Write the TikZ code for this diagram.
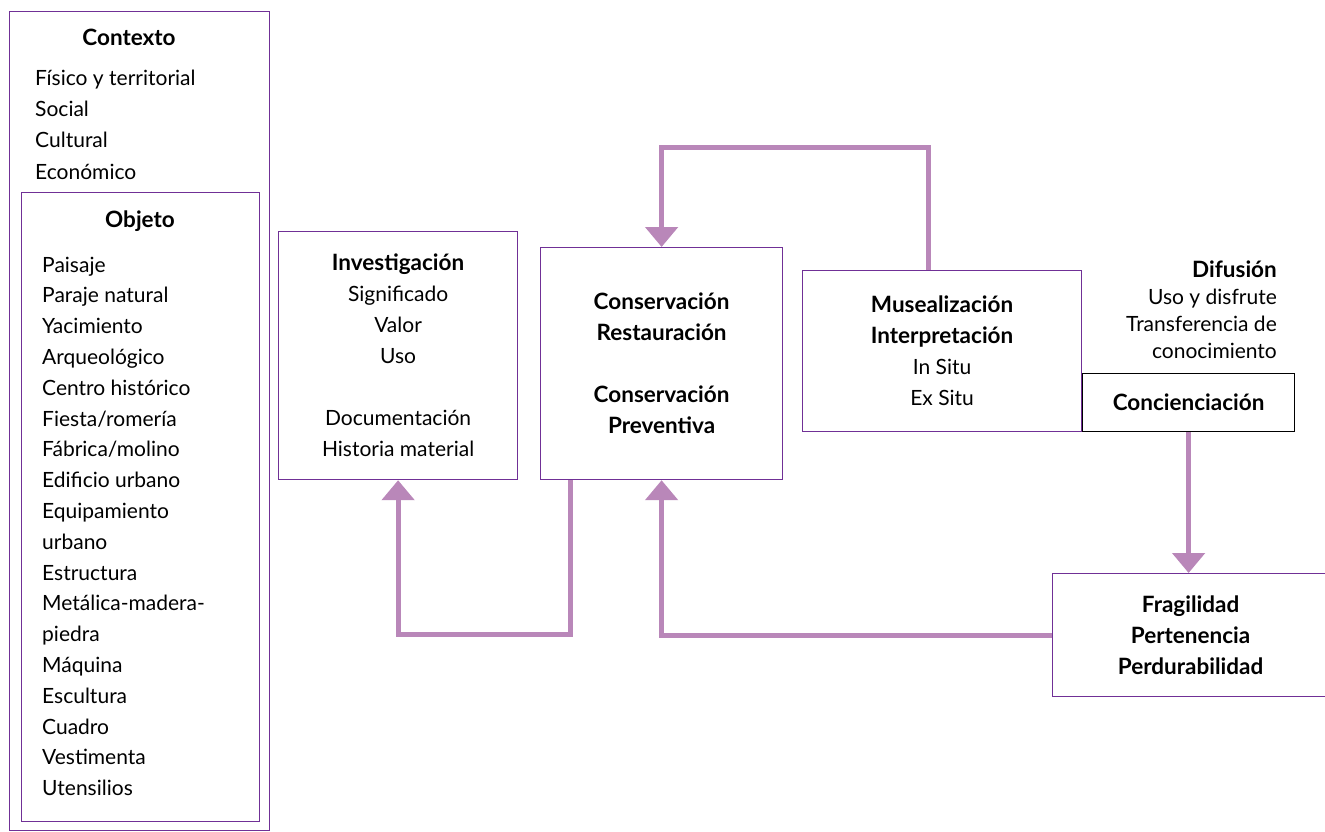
\documentclass[tikz,border=0pt]{standalone}
\usepackage{fontspec}
\setmainfont{Lato}
\usetikzlibrary{arrows.meta,calc}
\definecolor{boxpurple}{RGB}{112,48,150}
\definecolor{arrowpurple}{RGB}{185,135,185}
\newcommand{\bt}[1]{{\fontsize{22.5}{31}\selectfont\bfseries #1}}
\tikzset{
  box/.style={draw=boxpurple, line width=1.2pt, rectangle, inner sep=0pt, anchor=north west,
    align=center, font=\fontsize{21}{31}\selectfont},
  blackbox/.style={box, draw=black},
  lbl/.style={inner sep=0pt, font=\fontsize{21}{31}\selectfont},
  conn/.style={draw=arrowpurple, line width=5pt, -{Triangle[width=32pt,length=20pt]}}
}
\begin{document}
\begin{tikzpicture}[x=1pt,y=-1pt]
\useasboundingbox (0,0) rectangle (1325,832);
% left column
\node[box, minimum width=260pt, minimum height=819pt] (ctx) at (9,11) {};
\node[box, minimum width=238pt, minimum height=629pt] (obj) at (21,192) {};
\node[lbl, anchor=base] (ctxt) at (129,46) {\bt{Contexto}};
\node[lbl, anchor=base west] (ctx1) at (35,86) {Físico y territorial};
\node[lbl, anchor=base west] (ctx2) at (35,117) {Social};
\node[lbl, anchor=base west] (ctx3) at (35,148) {Cultural};
\node[lbl, anchor=base west] (ctx4) at (35,179) {Económico};
\node[lbl, anchor=base] (objt) at (140,227) {\bt{Objeto}};
\foreach \t [count=\i from 0] in {Paisaje,Paraje natural,Yacimiento,Arqueológico,Centro histórico,Fiesta/romería,Fábrica/molino,Edificio urbano,Equipamiento,urbano,Estructura,Metálica-madera-,piedra,Máquina,Escultura,Cuadro,Vestimenta,Utensilios}
  \node[lbl, anchor=base west] (obj\i) at (42,{272+30.8*\i}) {\t};
% boxes
\node[box, minimum width=239pt, minimum height=248pt] (inv) at (278,231)
  {\bt{Investigación}\\Significado\\Valor\\Uso\\[31pt]Documentación\\Historia material};
\node[box, minimum width=242pt, minimum height=232pt] (cons) at (540,247)
  {\bt{Conservación}\\\bt{Restauración}\\[31pt]\bt{Conservación}\\\bt{Preventiva}};
\node[box, minimum width=279pt, minimum height=161pt] (mus) at (802,270)
  {\bt{Musealización}\\\bt{Interpretación}\\In Situ\\Ex Situ};
\node[lbl, anchor=north east, align=right, font=\fontsize{21}{27}\selectfont] (dif) at (1277,261)
  {\bt{Difusión}\\Uso y disfrute\\Transferencia de\\conocimiento};
\node[blackbox, minimum width=212pt, minimum height=58pt] (conc) at (1082,373) {\bt{Concienciación}};
\node[box, minimum width=276pt, minimum height=123pt] (frag) at (1052,573)
  {\bt{Fragilidad}\\\bt{Pertenencia}\\\bt{Perdurabilidad}};
% connectors
\draw[conn] ([xshift=126pt]mus.north west) -- ++(0,-122) -| (cons.north);
\draw[conn] ([xshift=30pt]cons.south west) -- ++(0,154) -| (inv.south);
\draw[conn] (frag.west) -| (cons.south);
\draw[conn] (conc.south) -- (conc.south |- frag.north);
\end{tikzpicture}
\end{document}
